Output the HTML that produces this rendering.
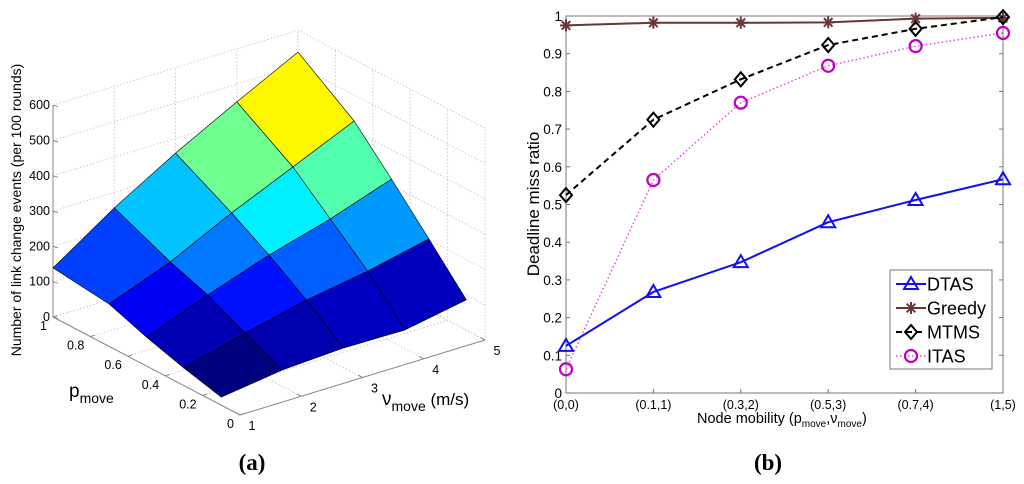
<!DOCTYPE html>
<html><head><meta charset="utf-8"><style>
html,body{margin:0;padding:0;background:#fff;}
svg{display:block;font-family:"Liberation Sans",Arial,sans-serif;}
</style></head><body>
<svg id="fig" width="1024" height="484" viewBox="0 0 1024 484" xmlns="http://www.w3.org/2000/svg">
<g id="left"></g>
<g id="right"></g>
<text x="252" y="470" font-family="Liberation Serif,serif" font-weight="bold" font-size="23" text-anchor="middle">(a)</text>
<text x="768" y="470" font-family="Liberation Serif,serif" font-weight="bold" font-size="23" text-anchor="middle">(b)</text>
</svg>
<script>
// ---------- Surface data ----------
const pVals = [0.1, 0.3, 0.5, 0.7, 1];
const vVals = [1, 2, 3, 4, 5];
const zRowP01 = [23, 47, 56, 54, 86];
const zRowP03 = [50, 96, 136, 165, 203];
const zRowP05 = [82, 148, 208, 257, 317];
const zRowP07 = [120, 186, 272, 349, 426];
const zRowP10 = [139, 256, 358, 450, 538];
const zTicks = [0, 100, 200, 300, 400, 500, 600];
const pTicks = [0, 0.2, 0.4, 0.6, 0.8, 1];
const vTicks = [1, 2, 3, 4, 5];

// ---------- Line chart data ----------
const xCats = ["(0,0)", "(0.1,1)", "(0.3,2)", "(0.5,3)", "(0.7,4)", "(1,5)"];
const dtas = [0.125, 0.268, 0.347, 0.453, 0.512, 0.567];
const greedy = [0.975, 0.982, 0.982, 0.983, 0.993, 0.995];
const mtms = [0.525, 0.725, 0.832, 0.923, 0.966, 0.997];
const itas = [0.063, 0.565, 0.770, 0.868, 0.920, 0.955];
const yTicks = [0, 0.1, 0.2, 0.3, 0.4, 0.5, 0.6, 0.7, 0.8, 0.9, 1];

const NS = "http://www.w3.org/2000/svg";
function mk(tag, attrs, parent, txt) {
  const e = document.createElementNS(NS, tag);
  for (const k in attrs) e.setAttribute(k, attrs[k]);
  if (txt !== undefined) e.textContent = txt;
  parent.appendChild(e);
  return e;
}

// ---------- Left: 3D surface ----------
const L = document.getElementById('left');
function proj(p, v, z) {
  return [240 - 187 * p + 61.25 * (v - 1), 415 - 98 * p - 18.75 * (v - 1) - 0.353 * z];
}
function pt(a) { return a[0].toFixed(1) + ',' + a[1].toFixed(1); }
function jet(t) {
  const c = x => Math.max(0, Math.min(1, x));
  const r = c(1.5 - Math.abs(4 * t - 3)), g = c(1.5 - Math.abs(4 * t - 2)), b = c(1.5 - Math.abs(4 * t - 1));
  return 'rgb(' + Math.round(r * 255) + ',' + Math.round(g * 255) + ',' + Math.round(b * 255) + ')';
}
const grey = '#888';
zTicks.forEach(z => {
  const a = proj(1, 1, z), b = proj(1, 5, z), c = proj(0, 5, z);
  const l = mk('polyline', {points: pt(a) + ' ' + pt(b) + ' ' + pt(c), fill: 'none', stroke: '#ccc', 'stroke-width': 1, 'stroke-dasharray': '1.5,2'}, L);
  
  
});
vTicks.forEach(v => {
  const a = proj(1, v, 0), b = proj(1, v, 600), c = proj(0, v, 0);
  const l = mk('polyline', {points: pt(c) + ' ' + pt(a) + ' ' + pt(b), fill: 'none', stroke: '#ccc', 'stroke-width': 1, 'stroke-dasharray': '1.5,2'}, L);
  
  
});
pTicks.forEach(p => {
  const a = proj(p, 1, 0), b = proj(p, 5, 0), c = proj(p, 5, 600);
  const l = mk('polyline', {points: pt(a) + ' ' + pt(b) + ' ' + pt(c), fill: 'none', stroke: '#ccc', 'stroke-width': 1, 'stroke-dasharray': '1.5,2'}, L);
  
  
});
const za = mk('line', {x1: proj(1,1,0)[0], y1: proj(1,1,0)[1], x2: proj(1,1,600)[0], y2: proj(1,1,600)[1], stroke: grey}, L);
 
const pa = mk('line', {x1: proj(1,1,0)[0], y1: proj(1,1,0)[1], x2: proj(0,1,0)[0], y2: proj(0,1,0)[1], stroke: grey}, L);
 
const va = mk('line', {x1: proj(0,1,0)[0], y1: proj(0,1,0)[1], x2: proj(0,5,0)[0], y2: proj(0,5,0)[1], stroke: grey}, L);
 
zTicks.forEach(z => {
  const a = proj(1, 1, z);
  mk('line', {x1: a[0], y1: a[1], x2: a[0] + 5, y2: a[1] + 1.5, stroke: grey}, L);
  const t = mk('text', {x: a[0] - 3, y: a[1] + 4, 'font-size': 12.5, 'text-anchor': 'end'}, L, String(z));
   
});
pTicks.forEach(p => {
  const a = proj(p, 1, 0);
  mk('line', {x1: a[0], y1: a[1], x2: a[0] + 4.5, y2: a[1] - 1.4, stroke: grey}, L);
  const t = mk('text', {x: a[0] - 6, y: a[1] + 13, 'font-size': 12.5, 'text-anchor': 'end'}, L, String(p));
   
});
vTicks.forEach(v => {
  const a = proj(0, v, 0);
  mk('line', {x1: a[0], y1: a[1], x2: a[0] - 4.5, y2: a[1] - 2.4, stroke: grey}, L);
  const t = mk('text', {x: a[0] + 12, y: a[1] + 15, 'font-size': 12.5, 'text-anchor': 'middle'}, L, String(v));
   
});
const zGrid = [zRowP01, zRowP03, zRowP05, zRowP07, zRowP10];
let zmin = Infinity, zmax = -Infinity;
zGrid.forEach(r => r.forEach(z => { zmin = Math.min(zmin, z); zmax = Math.max(zmax, z); }));
const patches = [];
for (let i = 0; i < pVals.length - 1; i++) for (let j = 0; j < vVals.length - 1; j++) patches.push([i, j]);
patches.sort((a, b) => (b[0] - a[0]) || (b[1] - a[1]));
patches.forEach(([i, j]) => {
  const c = [proj(pVals[i], vVals[j], zGrid[i][j]), proj(pVals[i], vVals[j+1], zGrid[i][j+1]),
             proj(pVals[i+1], vVals[j+1], zGrid[i+1][j+1]), proj(pVals[i+1], vVals[j], zGrid[i+1][j])];
  const poly = mk('polygon', {points: c.map(pt).join(' '), fill: jet((zGrid[i][j] - zmin) / (zmax - zmin)), stroke: '#000', 'stroke-width': 0.6, 'stroke-linejoin': 'round'}, L);
  
  
});
const zt = mk('text', {x: 0, y: 0, 'font-size': 14, 'text-anchor': 'middle', transform: 'translate(21,210) rotate(-90)'}, L, 'Number of link change events (per 100 rounds)');
 
const ptl = mk('text', {x: 69, y: 397, 'font-size': 19}, L);
 
mk('tspan', {}, ptl, 'p');
mk('tspan', {dy: 6, 'font-size': 14}, ptl, 'move');
const vtl = mk('text', {x: 382, y: 405, 'font-size': 19}, L);
 
mk('tspan', {}, vtl, 'ν');
mk('tspan', {dy: 6, 'font-size': 14}, vtl, 'move');
mk('tspan', {dy: -6, 'font-size': 17}, vtl, ' (m/s)');

// ---------- Right: line chart ----------
const R = document.getElementById('right');
const X0 = 566, X1 = 1003, Y0 = 393, Y1 = 16;
const xs = i => X0 + (X1 - X0) * i / (xCats.length - 1);
const ys = v => Y0 + (Y1 - Y0) * v;
const box = mk('rect', {x: X0, y: Y1, width: X1 - X0, height: Y0 - Y1, fill: 'none', stroke: '#777', 'stroke-width': 1}, R);
 
yTicks.forEach(v => {
  const y = ys(v);
  mk('line', {x1: X0, y1: y, x2: X0 + 4, y2: y, stroke: '#777'}, R);
  mk('line', {x1: X1, y1: y, x2: X1 - 4, y2: y, stroke: '#777'}, R);
  const t = mk('text', {x: X0 - 4, y: y + 5, 'font-size': 13.5, 'text-anchor': 'end'}, R, String(v));
   
});
xCats.forEach((c, i) => {
  const x = xs(i);
  mk('line', {x1: x, y1: Y0, x2: x, y2: Y0 - 4, stroke: '#777'}, R);
  mk('line', {x1: x, y1: Y1, x2: x, y2: Y1 + 4, stroke: '#777'}, R);
  const t = mk('text', {x: x, y: Y0 + 16, 'font-size': 12.5, 'text-anchor': 'middle'}, R, c);
   
});
const yl = mk('text', {x: 0, y: 0, 'font-size': 17, 'text-anchor': 'middle', transform: 'translate(539,204) rotate(-90)'}, R, 'Deadline miss ratio');
 
const xl = mk('text', {x: 697, y: 423, 'font-size': 14.5}, R);
 
mk('tspan', {}, xl, 'Node mobility (p');
mk('tspan', {dy: 4, 'font-size': 10}, xl, 'move');
mk('tspan', {dy: -4}, xl, ',ν');
mk('tspan', {dy: 4, 'font-size': 10}, xl, 'move');
mk('tspan', {dy: -4}, xl, ')');

function marker(g, type, x, y, col) {
  if (type === 'tri') mk('polygon', {points: (x-7)+','+(y+5)+' '+(x+7)+','+(y+5)+' '+x+','+(y-7), fill: 'none', stroke: col, 'stroke-width': 2}, g);
  else if (type === 'dia') mk('polygon', {points: x+','+(y-7)+' '+(x+6)+','+y+' '+x+','+(y+7)+' '+(x-6)+','+y, fill: 'none', stroke: col, 'stroke-width': 2}, g);
  else if (type === 'circ') mk('circle', {cx: x, cy: y, r: 6, fill: 'none', stroke: col, 'stroke-width': 2.2}, g);
  else if (type === 'star') {
    [[0,6],[6,0],[4.3,4.3],[4.3,-4.3]].forEach(d => mk('line', {x1: x-d[0], y1: y-d[1], x2: x+d[0], y2: y+d[1], stroke: col, 'stroke-width': 2}, g));
  }
}
const series = [
  {name: 'itas', label: 'ITAS', data: itas, col: '#e040e0', dash: '1.5,2.5', w: 1.4, m: 'circ', mc: '#c000c0'},
  {name: 'dtas', label: 'DTAS', data: dtas, col: '#1010f0', dash: '', w: 2, m: 'tri', mc: '#1010f0'},
  {name: 'greedy', label: 'Greedy', data: greedy, col: '#6b3535', dash: '', w: 2, m: 'star', mc: '#6b3535'},
  {name: 'mtms', label: 'MTMS', data: mtms, col: '#000', dash: '6,4', w: 2, m: 'dia', mc: '#000'}
];
series.forEach(s => {
  const g = mk('g', {}, R);
  
  
  const pts = s.data.map((v, i) => xs(i) + ',' + ys(v)).join(' ');
  const l = mk('polyline', {points: pts, fill: 'none', stroke: s.col, 'stroke-width': s.w, 'stroke-dasharray': s.dash}, g);
  
  
  s.data.forEach((v, i) => marker(g, s.m, xs(i), ys(v), s.mc));
});
const lg = mk('g', {}, R);


mk('rect', {x: 890, y: 270, width: 102, height: 99, fill: '#fff', stroke: '#777'}, lg);
const order = ['dtas', 'greedy', 'mtms', 'itas'];
order.forEach((n, k) => {
  const s = series.find(q => q.name === n);
  const y = 284 + k * 24;
  const e = mk('g', {}, lg);
  
  
  mk('line', {x1: 896, y1: y, x2: 926, y2: y, stroke: s.col, 'stroke-width': s.w, 'stroke-dasharray': s.dash}, e);
  marker(e, s.m, 911, y, s.mc);
  mk('text', {x: 927, y: y + 6.5, 'font-size': 18}, e, s.label);
});
</script>
</body></html>
